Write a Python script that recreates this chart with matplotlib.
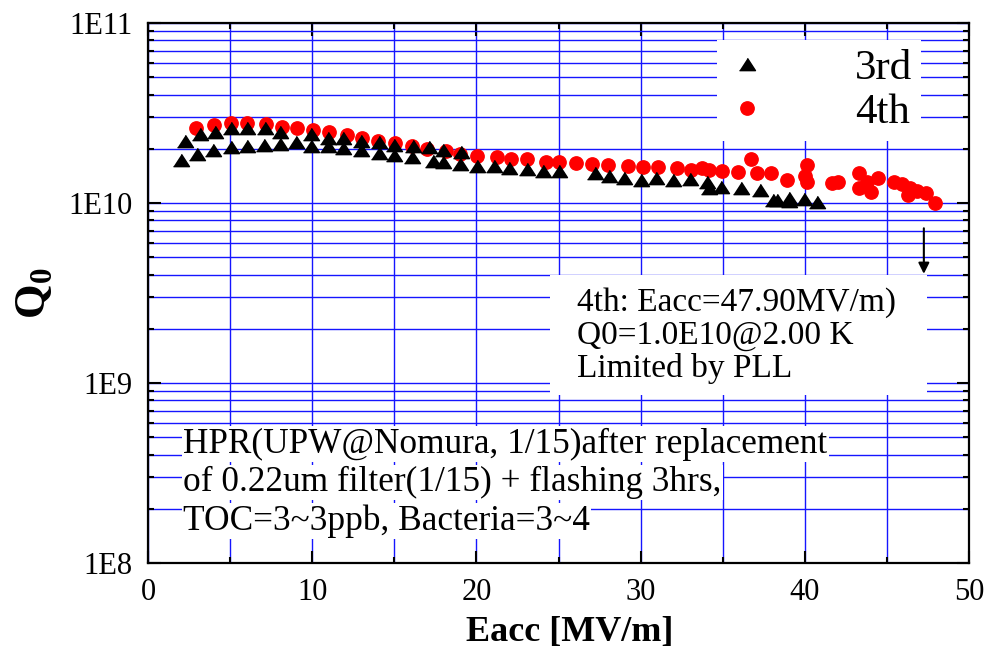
import matplotlib
matplotlib.use("Agg")
import matplotlib.pyplot as plt
from matplotlib.ticker import FixedLocator, FixedFormatter, MultipleLocator, NullFormatter
import matplotlib.patches as mpatches

plt.rcParams['font.family'] = ['Liberation Serif', 'DejaVu Serif']
plt.rcParams['mathtext.fontset'] = 'custom'
plt.rcParams['mathtext.rm'] = 'Liberation Serif'
plt.rcParams['mathtext.bf'] = 'Liberation Serif:bold'

# Eacc [MV/m] and Q0 (in units of 1E10) for the 3rd test
eacc_3rd = [1.99, 2.23, 2.98, 3.16, 3.95, 4.10, 5.03, 5.07, 6.02, 6.02,
            7.08, 7.12, 8.01, 8.01, 9.00, 9.94, 9.94, 10.95, 10.95, 11.86,
            11.86, 12.98, 12.98, 14.05, 14.05, 15.00, 15.00, 16.12, 16.06, 17.09,
            17.34, 17.99, 17.94, 19.06, 19.00, 20.01, 21.09, 22.00, 23.08, 24.07,
            25.04, 27.20, 28.08, 28.99, 30.01, 30.96, 31.98, 32.99, 34.06, 34.17,
            34.88, 36.09, 37.25, 38.08, 38.32, 39.03, 39.03, 39.95, 40.72]
q0_3rd = [1.73, 2.22, 1.87, 2.41, 1.98, 2.49, 2.05, 2.62, 2.08, 2.62,
          2.10, 2.62, 2.49, 2.12, 2.17, 2.41, 2.08, 2.31, 2.07, 2.29,
          2.01, 2.21, 1.97, 2.19, 1.89, 2.10, 1.85, 2.08, 1.79, 2.05,
          1.72, 1.97, 1.68, 1.93, 1.65, 1.61, 1.61, 1.56, 1.54, 1.51,
          1.51, 1.46, 1.42, 1.37, 1.34, 1.37, 1.34, 1.36, 1.30, 1.21,
          1.23, 1.21, 1.18, 1.04, 1.04, 1.06, 1.02, 1.05, 1.01]

# Eacc [MV/m] and Q0 (in units of 1E10) for the 4th test
eacc_4th = [2.94, 4.01, 5.03, 6.02, 7.16, 8.15, 9.09, 10.04, 11.05, 12.10,
            13.04, 14.03, 15.07, 16.06, 17.00, 18.15, 19.00, 20.01, 21.23, 22.10,
            23.08, 24.23, 25.00, 26.06, 27.07, 28.04, 29.24, 30.15, 31.08, 32.20,
            33.05, 33.76, 34.17, 34.94, 35.95, 36.70, 37.10, 37.96, 38.93, 40.15,
            39.99, 40.11, 41.63, 42.03, 43.33, 43.33, 43.80, 44.04, 44.46, 45.42,
            45.92, 46.29, 46.39, 46.84, 47.41, 47.90]
q0_4th = [2.60, 2.71, 2.77, 2.77, 2.75, 2.65, 2.62, 2.54, 2.49, 2.39,
          2.29, 2.22, 2.15, 2.08, 2.00, 1.95, 1.88, 1.82, 1.79, 1.75,
          1.75, 1.70, 1.70, 1.66, 1.64, 1.63, 1.61, 1.59, 1.58, 1.56,
          1.52, 1.57, 1.52, 1.51, 1.49, 1.75, 1.46, 1.46, 1.34, 1.63,
          1.42, 1.31, 1.29, 1.31, 1.46, 1.21, 1.30, 1.15, 1.38, 1.31,
          1.27, 1.11, 1.21, 1.17, 1.13, 1.00]

q_scale = 1e10
y_ticks = [1e8, 1e9, 1e10, 1e11]
y_tick_labels = ["1E8", "1E9", "1E10", "1E11"]
x_ticks = [0, 10, 20, 30, 40, 50]

series_labels = ["3rd", "4th"]
limit_text = "4th: Eacc=47.90MV/m)\nQ0=1.0E10@2.00 K\nLimited by PLL"
note_lines = ["HPR(UPW@Nomura, 1/15)after replacement",
              "of 0.22um filter(1/15) + flashing 3hrs,",
              "TOC=3~3ppb, Bacteria=3~4"]

fig = plt.figure(figsize=(9.88, 6.48), dpi=100)
ax = fig.add_axes([148 / 988, 1 - 563 / 648, 821 / 988, 540 / 648])

ax.set_yscale('log')
ax.set_xlim(0, 50)
ax.set_ylim(1e8, 1e11)

grid_col = '#1515ff'
ax.xaxis.set_major_locator(FixedLocator(x_ticks))
ax.xaxis.set_minor_locator(MultipleLocator(5))
ax.yaxis.set_major_locator(FixedLocator(y_ticks))
ax.yaxis.set_major_formatter(FixedFormatter(y_tick_labels))
ax.yaxis.set_minor_locator(FixedLocator([m * 10.0 ** e for e in range(8, 11) for m in range(2, 10)]))
ax.yaxis.set_minor_formatter(NullFormatter())
ax.grid(True, which='both', color=grid_col, lw=1.0)
ax.set_axisbelow(True)

ax.tick_params(axis='both', which='major', direction='in', length=9, width=1.5,
               top=True, right=True, labelsize=22, pad=11, colors='black')
ax.tick_params(axis='both', which='minor', direction='in', length=4.5, width=1.5,
               top=True, right=True)
for sp in ax.spines.values():
    sp.set_linewidth(1.6)

tri = [(-1, -0.77), (1, -0.77), (0, 0.77)]
ax.plot(eacc_4th, [v * q_scale for v in q0_4th], linestyle='none', marker='o',
        ms=9.6, color='#ff0000', mec='#ff0000', label=series_labels[1], zorder=3)
ax.plot(eacc_3rd, [v * q_scale for v in q0_3rd], linestyle='none', marker=tri,
        ms=11.5, color='black', mec='black', label=series_labels[0], zorder=4)

handles, labels = ax.get_legend_handles_labels()
leg = ax.legend(handles[::-1], labels[::-1], loc='upper right',
                bbox_to_anchor=(0.9415, 0.9685), fontsize=31, frameon=True,
                fancybox=False, framealpha=1, edgecolor='none', facecolor='white',
                handletextpad=2.0, handlelength=1.0, borderpad=0.2,
                labelspacing=0.12, borderaxespad=0, numpoints=1)
leg.set_zorder(5)

# white panel behind the quench note
ax.add_patch(mpatches.Rectangle(((550 - 148) / 821, (563 - 395) / 540),
                                377 / 821, 120 / 540, transform=ax.transAxes,
                                facecolor='white', edgecolor='none', zorder=5))
ax.text((577 - 148) / 821, (563 - 287) / 540, limit_text, transform=ax.transAxes,
        fontsize=24, va='top', ha='left', linespacing=1.1, zorder=6)

# arrow marking the end of the 4th test
ax.annotate('', xy=(47.25, 3.9e9), xytext=(47.25, 7.5e9),
            arrowprops=dict(arrowstyle='-|>', color='black', lw=1.5,
                            mutation_scale=16), zorder=6)

for i, line in enumerate(note_lines):
    ax.text((183 - 148) / 821, (563 - 444 - 38.5 * i) / 540, line,
            transform=ax.transAxes, fontsize=25.4, va='center', ha='left',
            bbox=dict(facecolor='white', edgecolor='none', pad=1.0), zorder=6)

fig.text(569.5 / 988, 1 - 633 / 648, 'Eacc [MV/m]', fontsize=26,
         fontweight='bold', ha='center', va='center')
fig.text(35 / 988, 1 - 293 / 648, r'$\mathbf{Q}_\mathbf{0}$', fontsize=32,
         rotation=90, ha='center', va='center')

fig.savefig('out.png', dpi=100)
